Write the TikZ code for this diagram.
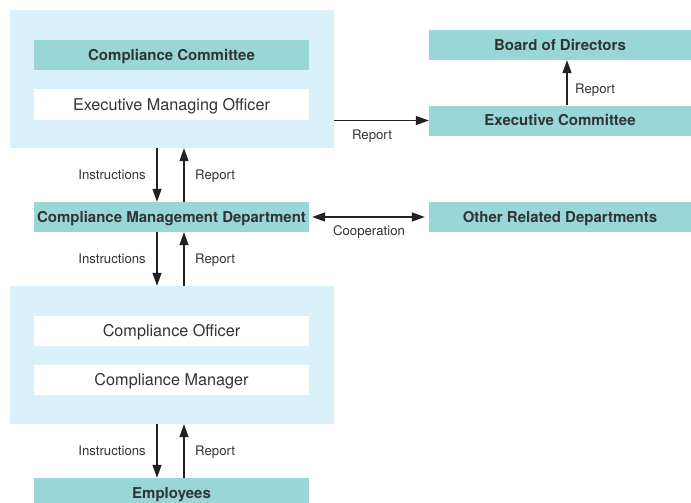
\documentclass[tikz,border=0pt]{standalone}
\usepackage{fontspec}
\setmainfont{TeX Gyre Heros}
\usetikzlibrary{arrows.meta}
\definecolor{panelblue}{HTML}{DAF0FA}
\definecolor{teal}{HTML}{99D6D8}
\definecolor{txt}{HTML}{333333}
\definecolor{ln}{HTML}{222222}
\begin{document}
\begin{tikzpicture}[x=1pt,y=-1pt,
  panel/.style={fill=panelblue, minimum width=324pt, minimum height=138pt, inner sep=0pt},
  tealbox/.style={fill=teal, text=txt, font=\fontsize{15}{18}\selectfont\bfseries, minimum height=30pt, inner sep=0pt, text height=10.6pt, text depth=0pt},
  whitebox/.style={fill=white, text=txt, font=\fontsize{16.2}{19}\selectfont, minimum width=275pt, minimum height=30pt, inner sep=0pt, text height=11.4pt, text depth=0pt},
  lbl/.style={text=txt, font=\fontsize{13.2}{15}\selectfont, inner sep=0pt, text height=9.4pt, text depth=0pt},
  arr/.style={draw=ln, line width=1.3pt, -{Triangle[length=13pt,width=9pt]}},
  darr/.style={draw=ln, line width=1.3pt, {Triangle[length=13pt,width=9pt]}-{Triangle[length=13pt,width=9pt]}}
]
\useasboundingbox (0,0) rectangle (691,503);
\clip (0,0) rectangle (691,503);
% panels
\node[panel] (p1) at (172,79) {};
\node[panel] (p2) at (172,355) {};
% boxes
\node[tealbox, minimum width=275pt] (cc) at (171.5,55.5) {Compliance Committee};
\node[whitebox] (emo) at (171.5,104.5) {Executive Managing Officer};
\node[tealbox, minimum width=262pt] (bod) at (560,45) {Board of Directors};
\node[tealbox, minimum width=262pt] (ec) at (560,120.5) {Executive Committee};
\node[tealbox, minimum width=275pt] (cmd) at (171.5,217) {Compliance Management Department};
\node[tealbox, minimum width=262pt] (ord) at (560,217) {Other Related Departments};
\node[whitebox] (co) at (171.5,331) {Compliance Officer};
\node[whitebox] (cm) at (171.5,380) {Compliance Manager};
\node[tealbox, minimum width=275pt] (emp) at (171.5,493) {Employees};
% arrows top panel <-> cmd
\draw[arr] ([xshift=-15pt]p1.south) -- ([xshift=-15pt]p1.south |- cmd.north);
\draw[arr] ([xshift=12pt]p1.south |- cmd.north) -- ([xshift=12pt]p1.south);
\node[lbl, anchor=east] (l1) at (146,174.5) {Instructions};
\node[lbl, anchor=west] (l2) at (195,174.5) {Report};
% cmd <-> panel 2
\draw[arr] ([xshift=-15pt]p2.north |- cmd.south) -- ([xshift=-15pt]p2.north);
\draw[arr] ([xshift=12pt]p2.north) -- ([xshift=12pt]p2.north |- cmd.south);
\node[lbl, anchor=east] (l3) at (146,258.5) {Instructions};
\node[lbl, anchor=west] (l4) at (195,258.5) {Report};
% panel 2 <-> employees
\draw[arr] ([xshift=-15pt]p2.south) -- ([xshift=-15pt]p2.south |- emp.north);
\draw[arr] ([xshift=12pt]p2.south |- emp.north) -- ([xshift=12pt]p2.south);
\node[lbl, anchor=east] (l5) at (146,450.5) {Instructions};
\node[lbl, anchor=west] (l6) at (195,450.5) {Report};
% report to executive committee
\draw[arr] (ec.west -| p1.east) -- (ec.west);
\node[lbl] (l7) at (372,134.5) {Report};
% ec to bod
\draw[arr] ([xshift=7pt]ec.north) -- ([xshift=7pt]ec.north |- bod.south);
\node[lbl, anchor=west] (l8) at (575,88.5) {Report};
% cooperation
\draw[darr, shorten <=3pt, shorten >=4pt] (cmd.east) -- (ord.west);
\node[lbl] (l9) at (369,230.5) {Cooperation};
\end{tikzpicture}
\end{document}
